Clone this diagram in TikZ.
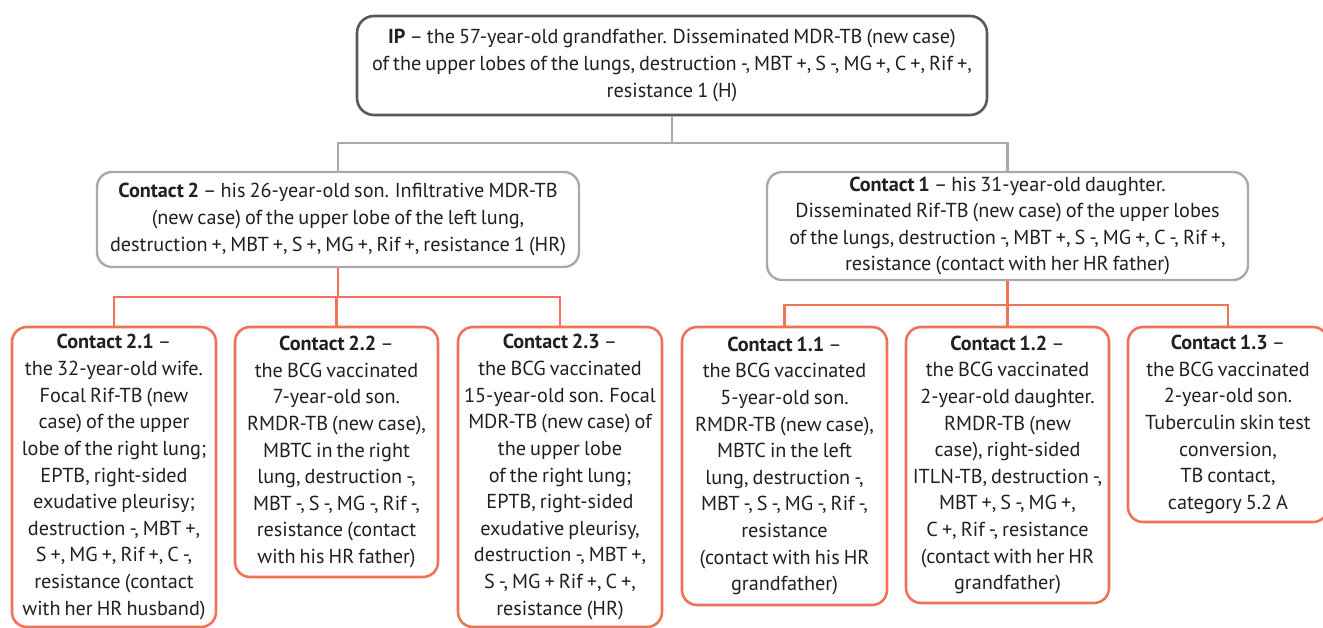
\documentclass[tikz,border=0pt]{standalone}
\usepackage{fontspec}
\setmainfont[WordSpace=0.75]{PT Sans}
\definecolor{txt}{HTML}{231F20}
\definecolor{ipgray}{HTML}{58595B}
\definecolor{lgray}{HTML}{A7A9AC}
\definecolor{orng}{HTML}{F07356}
\tikzset{
  basebox/.style={rectangle, rounded corners=15bp, align=center, inner sep=0pt,
    text=txt, font=\fontsize{20.3}{26.7}\selectfont, fill=white},
  ipbox/.style={basebox, draw=ipgray, line width=2.6bp, rounded corners=17bp},
  graybox/.style={basebox, draw=lgray, line width=2.4bp},
  orbox/.style={basebox, draw=orng, line width=2.6bp},
  gline/.style={draw=lgray, line width=2.2bp},
  oline/.style={draw=orng, line width=2.4bp},
}
\begin{document}
\begin{tikzpicture}[x=1bp,y=-1bp]
\useasboundingbox (0,0) rectangle (1323,628);
\coordinate (g) at (672,143);
\coordinate (o2) at (0,297);
\coordinate (o1) at (0,305);
% nodes
\node[ipbox, minimum width=630bp, minimum height=99bp] (ip) at (672,65.5)
 {\textbf{IP} – the 57-year-old grandfather. Disseminated MDR-TB (new case)\\
  of the upper lobes of the lungs, destruction -, MBT +, S -, MG +, C +, Rif +,\\
  resistance 1 (H)};
\node[graybox, minimum width=482bp, minimum height=95bp] (c2) at (338,219.5)
 {\textbf{Contact 2} – his 26-year-old son. Infiltrative MDR-TB\\
  (new case) of the upper lobe of the left lung,\\
  destruction +, MBT +, S +, MG +, Rif +, resistance 1 (HR)};
\node[graybox, minimum width=481bp, minimum height=108bp] (c1) at (1007.5,226)
 {\textbf{Contact 1} – his 31-year-old daughter.\\
  Disseminated Rif-TB (new case) of the upper lobes\\
  of the lungs, destruction -, MBT +, S -, MG +, C -, Rif +,\\
  resistance (contact with her HR father)};
\node[orbox, minimum width=204bp, minimum height=300bp] (c21) at (114,477)
 {\textbf{Contact 2.1} –\\ the 32-year-old wife.\\ Focal Rif-TB (new\\ case) of the upper\\
  lobe of the right lung;\\ EPTB, right-sided\\ exudative pleurisy;\\ destruction -, MBT +,\\
  S +, MG +, Rif +, C -,\\ resistance (contact\\ with her HR husband)};
\node[orbox, minimum width=203bp, minimum height=250bp] (c22) at (336.5,452)
 {\textbf{Contact 2.2} –\\ the BCG vaccinated\\ 7-year-old son.\\ RMDR-TB (new case),\\
  MBTC in the right\\ lung, destruction -,\\ MBT -, S -, MG -, Rif -,\\ resistance (contact\\ with his HR father)};
\node[orbox, minimum width=204bp, minimum height=300bp] (c23) at (560,477)
 {\textbf{Contact 2.3} –\\ the BCG vaccinated\\ 15-year-old son. Focal\\ MDR-TB (new case) of\\
  the upper lobe\\ of the right lung;\\ EPTB, right-sided\\ exudative pleurisy,\\
  destruction -, MBT +,\\ S -, MG + Rif +, C +,\\ resistance (HR)};
\node[orbox, minimum width=205bp, minimum height=278bp] (c11) at (784.5,466)
 {\textbf{Contact 1.1} –\\ the BCG vaccinated\\ 5-year-old son.\\ RMDR-TB (new case),\\
  MBTC in the left\\ lung, destruction -,\\ MBT -, S -, MG -, Rif -,\\ resistance\\
  (contact with his HR\\ grandfather)};
\node[orbox, minimum width=203bp, minimum height=276bp] (c12) at (1007.5,465)
 {\textbf{Contact 1.2} –\\ the BCG vaccinated\\ 2-year-old daughter.\\ RMDR-TB (new\\
  case), right-sided\\ ITLN-TB, destruction -,\\ MBT +, S -, MG +,\\ C +, Rif -, resistance\\
  (contact with her HR\\ grandfather)};
\node[orbox, minimum width=200bp, minimum height=195bp] (c13) at (1228,424.5)
 {\textbf{Contact 1.3} –\\ the BCG vaccinated\\ 2-year-old son.\\ Tuberculin skin test\\
  conversion,\\ TB contact,\\ category 5.2 A};
% connectors
\draw[gline] (ip.south) -- (g);
\draw[gline] (c2.north) -- (c2.north |- g) -- (c1.north |- g) -- (c1.north);
\draw[oline] (c2.south) -- (c2.south |- o2);
\draw[oline] (c21.north) -- (c21.north |- o2) -- (c23.north |- o2) -- (c23.north);
\draw[oline] (c22.north) -- (c22.north |- o2);
\draw[oline] (c1.south) -- (c1.south |- o1);
\draw[oline] (c11.north) -- (c11.north |- o1) -- (c13.north |- o1) -- (c13.north);
\draw[oline] (c12.north) -- (c12.north |- o1);
\end{tikzpicture}
\end{document}
